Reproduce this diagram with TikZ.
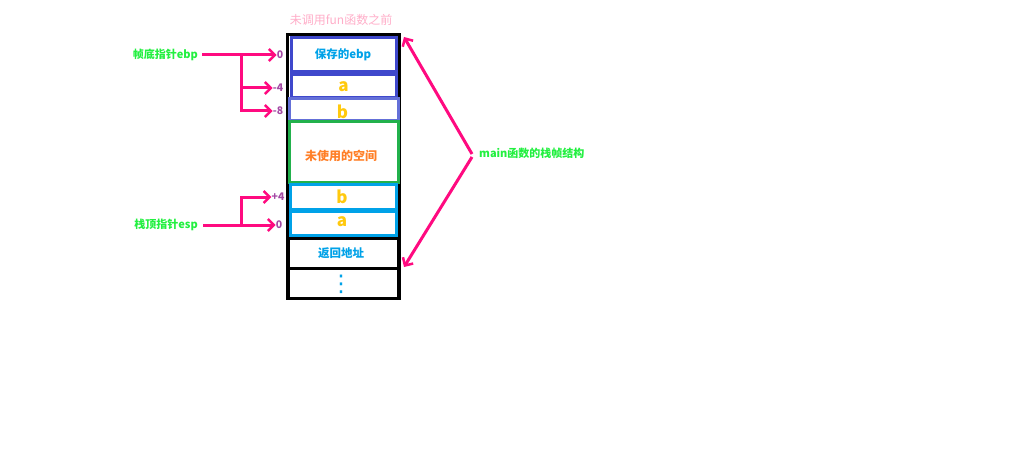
\documentclass[tikz,border=0pt]{standalone}
\usepackage{fontspec}
\setmainfont{Noto Sans CJK SC}
\newfontfamily\dejavu{DejaVu Sans}
\usetikzlibrary{arrows.meta}
\definecolor{darkblue}{HTML}{3F48CC}
\definecolor{midblue}{HTML}{6470D8}
\definecolor{boxgreen}{HTML}{22B14C}
\definecolor{cyanblue}{HTML}{00A2E8}
\definecolor{titlepink}{HTML}{FFAEC9}
\definecolor{txtgreen}{HTML}{22F040}
\definecolor{orangetxt}{HTML}{FF7F27}
\definecolor{offpurple}{HTML}{A349A4}
\definecolor{arrpink}{HTML}{FF0A80}
\definecolor{letteryellow}{HTML}{FFC90E}
\tikzset{
  cell/.style={draw, line width=3pt, rectangle, inner sep=0pt, minimum width=105pt},
  ptr/.style={draw=arrpink, line width=3pt, -{Straight Barb[length=6pt,width=12pt,line width=2.5pt]}},
  lbl/.style={font=\fontsize{11}{13}\selectfont\bfseries, text=txtgreen, inner sep=0pt},
  off/.style={font=\fontsize{10.5}{12}\selectfont\bfseries, text=offpurple, inner sep=0pt},
  letter/.style={font=\fontsize{17}{19}\selectfont\bfseries, text=letteryellow, inner sep=0pt},
  celltxt/.style={font=\fontsize{11.5}{13}\selectfont\bfseries, text=cyanblue, inner sep=0pt}
}
\begin{document}
\begin{tikzpicture}[x=1pt,y=-1pt]
\useasboundingbox[fill=white] (0,0) rectangle (1024,457);
% title
\node[font=\fontsize{12}{14}\selectfont, text=titlepink, inner sep=0pt] (title) at (341,20) {未调用fun函数之前};
% outer frame
\node[draw=black, line width=3pt, inner sep=0pt, minimum width=112pt, minimum height=263pt] (frame) at (343,166.5) {};
% cells
\node[cell, draw=darkblue, minimum width=105pt, minimum height=34pt] (sebp) at (343.5,55) {};
\node[celltxt] at (343,55) {保存的ebp};
\node[cell, draw=darkblue, minimum width=105pt, minimum height=23pt] (a1) at (343.5,86.5) {};
\node[letter] at (a1) {a};
\node[cell, draw=midblue, minimum width=109pt, minimum height=22pt] (b1) at (343.5,110) {};
\node[letter] at (342.5,112) {b};
\node[cell, draw=boxgreen, minimum width=109pt, minimum height=60pt] (unused) at (343.5,152) {};
\node[font=\fontsize{12}{14}\selectfont\bfseries, text=orangetxt, inner sep=0pt] at (341,156) {未使用的空间};
\node[cell, draw=cyanblue, minimum width=106pt, minimum height=25pt] (b2) at (343,196.5) {};
\node[letter] at (342,197) {b};
\node[cell, draw=cyanblue, minimum width=106pt, minimum height=24pt] (a2) at (343,223) {};
\node[letter] at (342,222) {a};
\node[cell, draw=black, minimum width=110pt, minimum height=30pt] (ret) at (343,253) {};
\node[celltxt] at (341,253) {返回地址};
\node[cell, draw=black, minimum width=110pt, minimum height=30pt] (more) at (343,283) {};
\node[font=\dejavu\fontsize{23}{25}\selectfont, text=cyanblue, inner sep=0pt] at (341,284) {⋮};
% ebp pointer
\node[lbl, anchor=east] (ebp) at (198,55) {帧底指针ebp};
\node[off] (o0) at (280,55) {0};
\node[off] (om4) at (278,88) {-4};
\node[off] (om8) at (278,111) {-8};
\coordinate (j1) at (241,55);
\draw[ptr] (ebp.east) ++(4,0) -- (o0.west);
\draw[ptr] (j1) |- (om4.west);
\draw[ptr] (j1) |- (om8.west);
% esp pointer
\node[lbl, anchor=east] (esp) at (198,225) {栈顶指针esp};
\node[off] (e0) at (279,225) {0};
\node[off] (ep4) at (278,197) {+4};
\coordinate (j2) at (241,225);
\draw[ptr] (esp.east) ++(5,0) -- (e0.west);
\draw[ptr] (j2) |- (ep4.west);
% main label
\node[lbl, anchor=west] (mainlbl) at (479,153) {main函数的栈帧结构};
\coordinate (m1) at (472,154);
\coordinate (m2) at (472,157);
\coordinate (t1) at (404,37);
\coordinate (t2) at (404,267);
\draw[ptr] (m1) -- (t1);
\draw[ptr] (m2) -- (t2);
\end{tikzpicture}
\end{document}
